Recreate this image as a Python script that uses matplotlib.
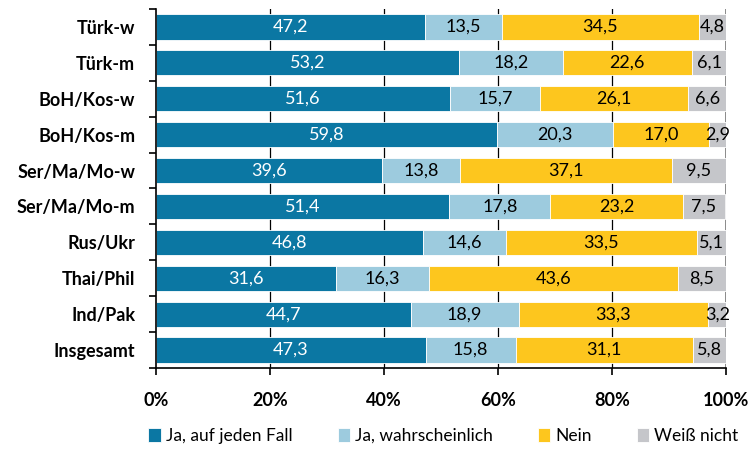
import numpy as np
import matplotlib
matplotlib.use('Agg')
import matplotlib.pyplot as plt

plt.rcParams['font.family'] = ['Lato', 'DejaVu Sans']

C_DARK = '#0b77a3'; C_LIGHT = '#9dcbde'; C_YEL = '#fdc61e'; C_GRAY = '#c5c6ca'

groups = ['Türk-w', 'Türk-m', 'BoH/Kos-w', 'BoH/Kos-m', 'Ser/Ma/Mo-w', 'Ser/Ma/Mo-m',
          'Rus/Ukr', 'Thai/Phil', 'Ind/Pak', 'Insgesamt']
ja_sicher = [47.2, 53.2, 51.6, 59.8, 39.6, 51.4, 46.8, 31.6, 44.7, 47.3]
ja_wahrsch = [13.5, 18.2, 15.7, 20.3, 13.8, 17.8, 14.6, 16.3, 18.9, 15.8]
nein = [34.5, 22.6, 26.1, 17.0, 37.1, 23.2, 33.5, 43.6, 33.3, 31.1]
weiss_nicht = [4.8, 6.1, 6.6, 2.9, 9.5, 7.5, 5.1, 8.5, 3.2, 5.8]
series = ['Ja, auf jeden Fall', 'Ja, wahrscheinlich', 'Nein', 'Weiß nicht']
colors = [C_DARK, C_LIGHT, C_YEL, C_GRAY]

fig = plt.figure(figsize=(7.49, 4.55), dpi=100)
ax = fig.add_axes([156/749, 1-368/455, (726-156)/749, (368-9)/455])

y = np.arange(len(groups))
left = np.zeros(len(groups))
handles = []
for vals, col, name in zip([ja_sicher, ja_wahrsch, nein, weiss_nicht], colors, series):
    vals = np.array(vals)
    b = ax.barh(y, vals, left=left, height=0.7, color=col, edgecolor='white', linewidth=0.6, zorder=2, label=name)
    handles.append(b)
    tc = 'white' if col == C_DARK else 'black'
    for yi, l, v in zip(y, left, vals):
        ax.text(l + v/2, yi, f'{v:.1f}'.replace('.', ','), ha='center', va='center',
                color=tc, fontsize=13, zorder=3)
    left += vals

for xv in [20, 40, 60, 80]:
    ax.axvline(xv, color='black', lw=0.9, zorder=0)
ax.axvline(100, color='#777777', lw=1.2, zorder=0)

ax.set_xlim(0, 100)
ax.set_ylim(len(groups)-0.5, -0.5)
ax.set_yticks(y)
ax.set_yticklabels(groups, fontsize=13, fontweight='bold')
ax.set_yticks(np.arange(-0.5, len(groups)), minor=True)
ax.tick_params(axis='y', which='major', length=0, pad=15)
ax.tick_params(axis='y', which='minor', length=5, width=1.2)
ax.set_xticks([0, 20, 40, 60, 80, 100])
ax.set_xticklabels([f'{v}%' for v in [0, 20, 40, 60, 80, 100]], fontsize=13, fontweight='bold')
ax.tick_params(axis='x', length=5, width=1.2, pad=12)
ax.spines['top'].set_visible(False); ax.spines['right'].set_visible(False)
ax.spines['left'].set_linewidth(1.2); ax.spines['bottom'].set_linewidth(1.2)

fig.legend(handles=handles, labels=series, loc='lower center', bbox_to_anchor=(0.592, -0.01), ncol=4,
           frameon=False, fontsize=12.5, handlelength=0.7, handleheight=0.9, handletextpad=0.3, columnspacing=2.6)

fig.savefig('out.png', dpi=100)
